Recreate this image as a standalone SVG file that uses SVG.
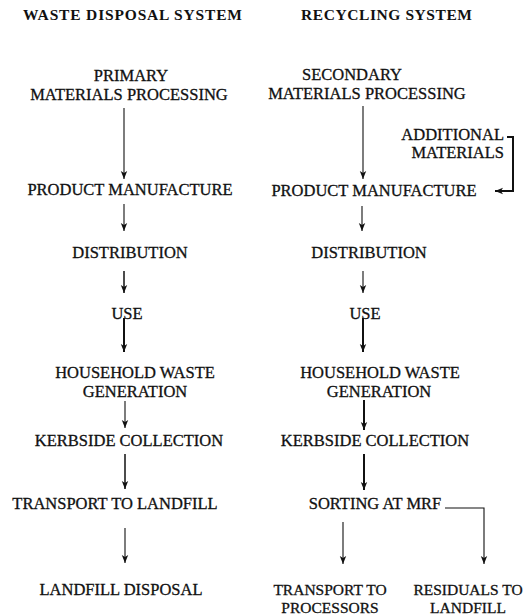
<svg xmlns="http://www.w3.org/2000/svg" width="529" height="616" viewBox="0 0 529 616">
<style>
  .t { font-family: "Liberation Serif", "Times New Roman", serif; font-size: 16.5px; fill: #111; stroke: #111; stroke-width: 0.3; text-anchor: middle; }
  .s { font-size: 15.5px; }
  .h { font-family: "Liberation Serif", "Times New Roman", serif; font-size: 15.5px; font-weight: bold; fill: #111; }
  .c { fill: none; stroke: #111; stroke-width: 1.1; }
  .m { stroke-width: 1.5; }
  .k { stroke-width: 2; }
</style>
<defs>
  <marker id="ah" viewBox="0 0 8 8" refX="8" refY="4" markerWidth="8" markerHeight="8" markerUnits="userSpaceOnUse" orient="auto">
    <path d="M0,0.8 L8,4 L0,7.2 L2,4 Z" fill="#111"/>
  </marker>
</defs>
<rect width="529" height="616" fill="#fff"/>

<g id="titles">
  <text class="h" x="23" y="20" textLength="219" lengthAdjust="spacing">WASTE DISPOSAL SYSTEM</text>
  <text class="h" x="301" y="20" textLength="171" lengthAdjust="spacing">RECYCLING SYSTEM</text>
</g>

<!-- Waste disposal column -->
<g id="w-primary"><text class="t" x="131" y="81">PRIMARY</text><text class="t" x="129" y="100">MATERIALS PROCESSING</text></g>
<g id="w-manufacture"><text class="t" x="130" y="195">PRODUCT MANUFACTURE</text></g>
<g id="w-distribution"><text class="t" x="130" y="258">DISTRIBUTION</text></g>
<g id="w-use"><text class="t" x="127" y="319">USE</text></g>
<g id="w-household"><text class="t" x="135" y="378">HOUSEHOLD WASTE</text><text class="t" x="135" y="397">GENERATION</text></g>
<g id="w-kerbside"><text class="t" x="129" y="446">KERBSIDE COLLECTION</text></g>
<g id="w-transport"><text class="t" x="115" y="509">TRANSPORT TO LANDFILL</text></g>
<g id="w-landfill"><text class="t" x="121" y="595">LANDFILL DISPOSAL</text></g>

<!-- Recycling column -->
<g id="r-secondary"><text class="t" x="352" y="80">SECONDARY</text><text class="t" x="367" y="99">MATERIALS PROCESSING</text></g>
<g id="r-additional"><text class="t" x="504" y="140" style="text-anchor:end">ADDITIONAL</text><text class="t" x="504" y="158" style="text-anchor:end">MATERIALS</text></g>
<g id="r-manufacture"><text class="t" x="374" y="196">PRODUCT MANUFACTURE</text></g>
<g id="r-distribution"><text class="t" x="369" y="258">DISTRIBUTION</text></g>
<g id="r-use"><text class="t" x="365" y="319">USE</text></g>
<g id="r-household"><text class="t" x="380" y="378">HOUSEHOLD WASTE</text><text class="t" x="379" y="397">GENERATION</text></g>
<g id="r-kerbside"><text class="t" x="375" y="446">KERBSIDE COLLECTION</text></g>
<g id="r-sorting"><text class="t" x="375" y="509">SORTING AT MRF</text></g>
<g id="r-processors"><text class="t s" x="330" y="595">TRANSPORT TO</text><text class="t s" x="330" y="613">PROCESSORS</text></g>
<g id="r-residuals"><text class="t s" x="468" y="595">RESIDUALS TO</text><text class="t s" x="468" y="613">LANDFILL</text></g>

<g id="connectors">
  <!-- left -->
  <line class="c" x1="124" y1="108" x2="124" y2="179" marker-end="url(#ah)"/>
  <line class="c" x1="124" y1="204" x2="124" y2="231" marker-end="url(#ah)"/>
  <line class="c m" x1="124" y1="271" x2="124" y2="293" marker-end="url(#ah)"/>
  <line class="c k" x1="124" y1="318" x2="124" y2="352" marker-end="url(#ah)"/>
  <line class="c" x1="125" y1="401" x2="125" y2="428" marker-end="url(#ah)"/>
  <line class="c m" x1="125" y1="454" x2="125" y2="489" marker-end="url(#ah)"/>
  <line class="c" x1="125" y1="528" x2="125" y2="563" marker-end="url(#ah)"/>
  <!-- right -->
  <line class="c" x1="363" y1="106" x2="363" y2="179" marker-end="url(#ah)"/>
  <polyline class="c k" points="507,137 513,137 513,191 495,191" marker-end="url(#ah)"/>
  <line class="c" x1="362" y1="206" x2="362" y2="231" marker-end="url(#ah)"/>
  <line class="c" x1="363" y1="271" x2="363" y2="293" marker-end="url(#ah)"/>
  <line class="c k" x1="363" y1="318" x2="363" y2="352" marker-end="url(#ah)"/>
  <line class="c k" x1="364" y1="400" x2="364" y2="430" marker-end="url(#ah)"/>
  <line class="c k" x1="364" y1="454" x2="364" y2="490" marker-end="url(#ah)"/>
  <line class="c" x1="343" y1="522" x2="343" y2="564" marker-end="url(#ah)"/>
  <polyline class="c" points="445,508 484,508 484,564" marker-end="url(#ah)"/>
</g>
</svg>
